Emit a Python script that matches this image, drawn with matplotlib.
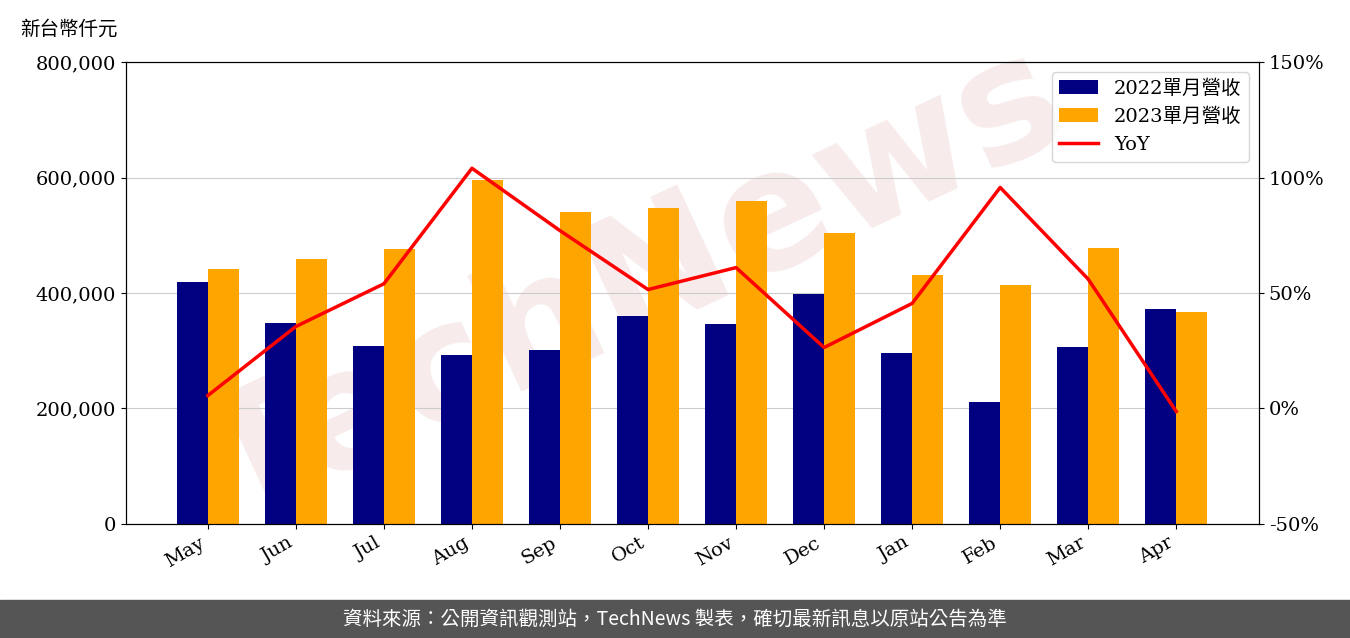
import matplotlib
matplotlib.use("Agg")
import matplotlib.pyplot as plt
import numpy as np
from matplotlib.ticker import FuncFormatter

plt.rcParams['font.family'] = ['DejaVu Serif', 'Noto Sans CJK TC']

months = ["May","Jun","Jul","Aug","Sep","Oct","Nov","Dec","Jan","Feb","Mar","Apr"]
rev2022 = [419000,348000,308000,293000,301000,360000,346000,398000,296000,211000,306000,372000]
rev2023 = [442000,459000,476000,596000,540000,547000,559000,504000,431000,414000,478000,367000]
yoy = [5.6,35.5,54,104,77,51.5,61,26.4,45.5,95.7,56,-1.3]

fig = plt.figure(figsize=(13.5,6.38), dpi=100)
ax = fig.add_axes([0.0933,0.1787,0.8393,0.7241])
ax.patch.set_alpha(0)
x = np.arange(len(months))
w = 0.35
ax.bar(x-w/2, rev2022, w, color='#000080', label='2022單月營收')
ax.bar(x+w/2, rev2023, w, color='#FFA500', label='2023單月營收')
ax.set_ylim(0,800000)
ax.set_yticks(range(0,800001,200000))
ax.yaxis.set_major_formatter(FuncFormatter(lambda v,p: f"{int(v):,}"))
ax.grid(axis='y', color='#cccccc')
ax.set_axisbelow(True)
ax.set_xticks(x)
ax.set_xticklabels(months, rotation=30, ha='right')
ax.set_xlim(-0.93, 11.94)
ax.tick_params(labelsize=14)
ax2 = ax.twinx()
ax2.plot(x, yoy, color='red', lw=2.5, label='YoY')
ax2.set_ylim(-50,150)
ax2.set_yticks(range(-50,151,50))
ax2.yaxis.set_major_formatter(FuncFormatter(lambda v,p: f"{int(v)}%"))
ax2.tick_params(labelsize=14)
h1,l1 = ax.get_legend_handles_labels()
h2,l2 = ax2.get_legend_handles_labels()
ax2.legend(h1+h2, l1+l2, loc='upper right', prop={'family':['DejaVu Serif','Noto Sans CJK TC'],'size':14})
fig.text(0.015, 0.955, '新台幣仟元', fontsize=14, family=['Noto Sans CJK TC'], va='center')
fig.text(0.47, 0.55, 'TechNews', fontsize=120, color='#f0d8d8', alpha=0.5, rotation=25,
         ha='center', va='center', family=['DejaVu Sans'], fontweight='bold', zorder=-5)
fig.patches.append(plt.Rectangle((0,0),1,0.0596, transform=fig.transFigure, color='#555555', zorder=-1))
fig.text(0.5, 0.0298, '資料來源：公開資訊觀測站，TechNews 製表，確切最新訊息以原站公告為準', color='white',
         fontsize=14, ha='center', va='center', family=['Noto Sans CJK TC'])
fig.savefig('out.png', dpi=100)
